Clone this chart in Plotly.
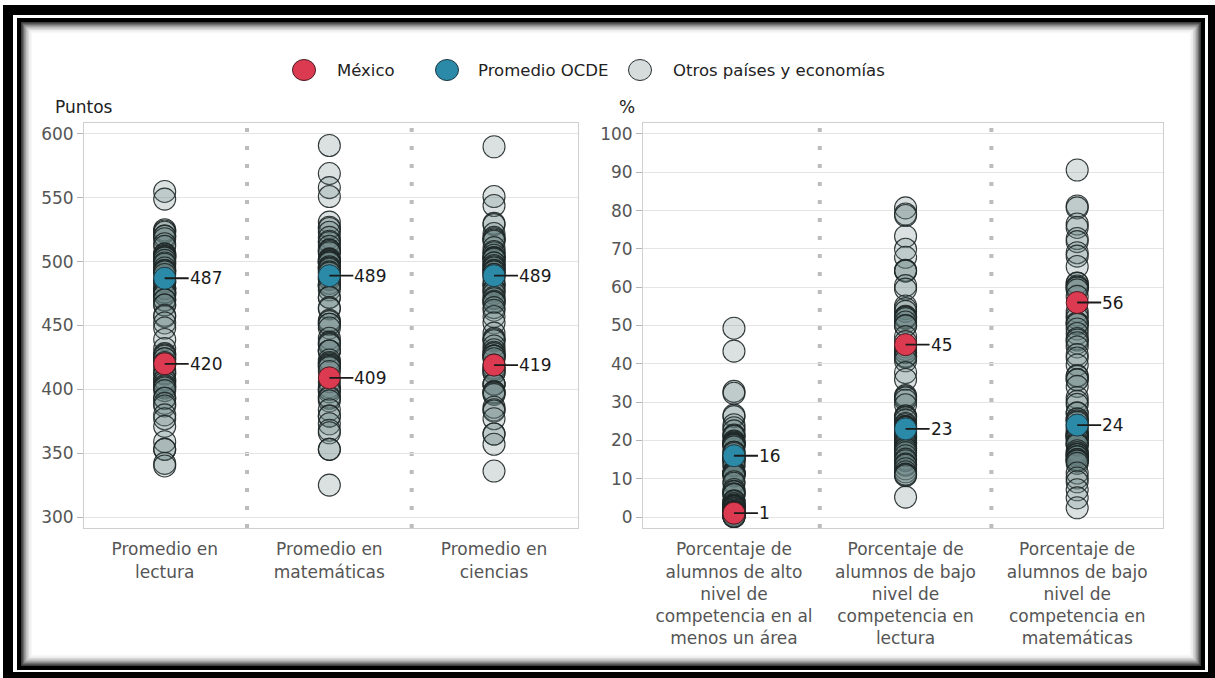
import plotly.graph_objects as go

W, H = 1215, 678
FONT = "DejaVu Sans"

# ---- data -------------------------------------------------------------
cats_left = ["Promedio en<br>lectura", "Promedio en<br>matemáticas", "Promedio en<br>ciencias"]
cats_right = [
    "Porcentaje de<br>alumnos de alto<br>nivel de<br>competencia en al<br>menos un área",
    "Porcentaje de<br>alumnos de bajo<br>nivel de<br>competencia en<br>lectura",
    "Porcentaje de<br>alumnos de bajo<br>nivel de<br>competencia en<br>matemáticas",
]

lectura = [555, 549, 525, 524, 523, 520, 520, 518, 514, 512, 506, 506, 505, 504, 504, 503, 503, 501,
           499, 498, 495, 493, 493, 492, 490, 485, 484, 484, 479, 479, 479, 476, 476, 476, 474, 474,
           470, 470, 466, 466, 458, 457, 452, 448, 439, 432, 428, 427, 426, 424, 424, 421, 420, 419,
           415, 413, 412, 408, 407, 405, 403, 402, 401, 399, 393, 393, 389, 387, 380, 377, 371, 359,
           353, 353, 342, 340]
matematicas = [591, 569, 558, 551, 531, 527, 526, 523, 519, 516, 515, 512, 509, 509, 508, 507, 502,
               502, 501, 500, 500, 499, 499, 496, 495, 495, 494, 492, 491, 488, 487, 486, 483, 481,
               481, 481, 478, 472, 472, 464, 463, 454, 453, 451, 451, 448, 440, 437, 436, 435, 430,
               430, 430, 423, 421, 420, 419, 418, 417, 414, 406, 402, 400, 400, 398, 394, 393, 391,
               384, 379, 379, 373, 368, 366, 353, 353, 325]
ciencias = [590, 551, 544, 530, 529, 522, 519, 518, 517, 516, 511, 508, 507, 505, 503, 503, 503, 502,
            499, 499, 497, 496, 495, 493, 493, 492, 490, 490, 487, 483, 482, 481, 478, 477, 475, 472,
            471, 469, 468, 468, 464, 462, 457, 452, 444, 440, 439, 438, 434, 431, 429, 428, 426, 426,
            426, 424, 419, 417, 416, 415, 413, 413, 404, 404, 404, 398, 398, 397, 396, 386, 384, 383,
            377, 365, 365, 357, 336]
alto_nivel = [49.3, 43.3, 32.8, 32.3, 26.6, 26.2, 24.1, 23.3, 22.5, 21.4, 21.2, 21.0, 19.8, 19.6,
              19.4, 19.2, 19.1, 18.9, 18.7, 18.3, 16.9, 16.9, 16.6, 15.8, 15.5, 15.4, 15.4, 14.9,
              14.6, 14.6, 13.5, 13.4, 11.8, 11.6, 11.5, 11.4, 11.3, 11.3, 10.9, 10.7, 9.2, 8.8, 7.2,
              6.7, 6.6, 6.0, 5.9, 5.9, 4.2, 4.1, 4.0, 3.5, 3.1, 3.0, 3.0, 2.9, 2.7, 2.6, 2.6, 2.2,
              2.2, 1.8, 1.4, 1.4, 1.3, 1.2, 1.2, 0.9, 0.6, 0.5, 0.4, 0.4, 0.3, 0.3, 0.1, 0.1, 0.1]
bajo_lectura = [80.7, 79.1, 78.7, 73.3, 69.9, 67.8, 64.4, 64.3, 64.2, 60.4, 59.5, 55.1, 54.4, 53.7,
                52.4, 52.2, 52.1, 51.8, 50.9, 50.0, 49.9, 47.1, 45.8, 44.4, 43.7, 43.0, 42.9, 42.0,
                41.9, 41.7, 40.8, 37.7, 35.9, 31.7, 31.4, 31.1, 30.5, 29.3, 26.4, 26.1, 25.9, 25.3,
                24.4, 24.1, 23.6, 23.6, 23.4, 23.3, 22.4, 22.1, 21.6, 21.3, 20.9, 20.7, 20.7, 20.2,
                19.6, 19.3, 19.3, 19.0, 18.4, 17.9, 17.8, 17.3, 16.8, 16.0, 15.1, 14.7, 13.8, 13.5,
                12.6, 11.8, 11.2, 11.1, 10.8, 5.2]
bajo_matematicas = [90.6, 81.2, 80.7, 76.5, 75.6, 72.7, 71.9, 69.0, 68.1, 65.4, 61.1, 61.0, 60.3,
                    60.0, 59.8, 59.3, 57.6, 53.7, 52.7, 51.9, 50.7, 50.6, 50.3, 49.1, 47.9, 46.6,
                    46.2, 45.5, 44.4, 42.4, 41.5, 39.7, 36.9, 36.7, 35.9, 35.8, 34.1, 31.2, 30.2,
                    29.4, 27.2, 27.1, 25.6, 25.6, 25.1, 24.7, 23.8, 23.3, 22.4, 21.8, 21.6, 21.3,
                    21.1, 21.1, 20.7, 20.4, 19.7, 19.2, 18.9, 18.8, 17.3, 16.8, 16.4, 16.3, 15.8,
                    15.7, 15.0, 15.0, 14.7, 14.6, 14.0, 11.5, 10.2, 9.2, 7.1, 5.0, 2.4]

mexico_left = [420, 409, 419]
ocde_left = [487, 489, 489]
mexico_right = [1, 45, 56]
ocde_right = [16, 23, 24]

# ---- styling ----------------------------------------------------------
RED = "#dc3a50"
TEAL = "#2b8aa8"
OTHER_FILL = "rgba(105,128,130,0.24)"
OTHER_LINE = "rgba(30,38,38,0.9)"
MSIZE = 22


def px_x(p):
    return p / W


def px_y(p):
    return 1 - p / H


fig = go.Figure()

panels = [
    ("x", "y", [lectura, matematicas, ciencias], mexico_left, ocde_left),
    ("x2", "y2", [alto_nivel, bajo_lectura, bajo_matematicas], mexico_right, ocde_right),
]

for xa, ya, groups, mex, ocde in panels:
    xs, ys = [], []
    for i, g in enumerate(groups):
        xs += [i] * len(g)
        ys += g
    fig.add_trace(go.Scatter(
        x=xs, y=ys, xaxis=xa, yaxis=ya, mode="markers", hoverinfo="skip",
        marker=dict(size=MSIZE, color=OTHER_FILL, line=dict(color=OTHER_LINE, width=1.1)),
    ))
    cats = list(range(len(groups)))
    fig.add_trace(go.Scatter(
        x=cats, y=ocde, xaxis=xa, yaxis=ya, mode="markers",
        marker=dict(size=MSIZE, color=TEAL, line=dict(color="#1d3a44", width=1)),
    ))
    fig.add_trace(go.Scatter(
        x=cats, y=mex, xaxis=xa, yaxis=ya, mode="markers",
        marker=dict(size=MSIZE, color=RED, line=dict(color="#4a1a20", width=1)),
    ))

annotations = []
for xa, ya, groups, mex, ocde in panels:
    for series in (mex, ocde):
        for i, v in enumerate(series):
            annotations.append(dict(
                x=i, y=v, xref=xa, yref=ya, text=str(v), showarrow=True,
                arrowhead=0, arrowwidth=1.8, arrowcolor="#1a1a1a", ax=24, ay=0,
                xanchor="left", yanchor="middle", borderpad=0,
                font=dict(family=FONT, size=17, color="#1a1a1a"),
            ))

# axis titles
annotations.append(dict(x=px_x(53), y=px_y(107), xref="paper", yref="paper", text="Puntos",
                        showarrow=False, xanchor="left", yanchor="middle",
                        font=dict(family=FONT, size=17, color="#222")))
annotations.append(dict(x=px_x(617), y=px_y(107), xref="paper", yref="paper", text="%",
                        showarrow=False, xanchor="left", yanchor="middle",
                        font=dict(family=FONT, size=17, color="#222")))

# legend
legend_items = [(304, 335, RED, "#4a1a20", "México"),
                (447, 476, TEAL, "#1d3a44", "Promedio OCDE"),
                (640, 671, "#d6dbdc", "#2a2f2f", "Otros países y economías")]
shapes = []

# frame around the figure
def rect(x0, y0, x1, y1, color):
    return dict(type="rect", xref="paper", yref="paper", layer="below",
                x0=px_x(x0), x1=px_x(x1), y0=px_y(y1), y1=px_y(y0),
                fillcolor=color, line=dict(width=0))

shapes.append(rect(3, 5, 1215, 678, "#000000"))
shapes.append(rect(13, 15, 1208, 672, "#ffffff"))
shapes.append(rect(17, 18, 1205, 670, "#000000"))
for k, col in enumerate(["#3c3c3c", "#6e6e6e", "#9a9a9a", "#bdbdbd", "#d8d8d8", "#ececec", "#f7f7f7"]):
    d = 4 + k * 1.6
    shapes.append(rect(17 + d, 18 + d, 1205 - d, 670 - d, col))
shapes.append(rect(17 + 4 + 7 * 1.6, 18 + 4 + 7 * 1.6, 1205 - 4 - 7 * 1.6, 670 - 4 - 7 * 1.6, "#ffffff"))

for cx, tx, fill, edge, label in legend_items:
    shapes.append(dict(type="circle", xref="paper", yref="paper", layer="above",
                       xsizemode="pixel", ysizemode="pixel",
                       xanchor=px_x(cx), yanchor=px_y(70),
                       x0=-11.5, x1=11.5, y0=-10.5, y1=10.5,
                       fillcolor=fill, line=dict(color=edge, width=1)))
    annotations.append(dict(x=px_x(tx), y=px_y(70), xref="paper", yref="paper", text=label,
                            showarrow=False, xanchor="left", yanchor="middle",
                            font=dict(family=FONT, size=16.5, color="#222")))

# dotted separators between categories
for xa in ("x", "x2"):
    for b in (0.5, 1.5):
        shapes.append(dict(type="line", xref=xa, yref=("y" if xa == "x" else "y2") + " domain",
                           x0=b, x1=b, y0=0, y1=1, layer="below",
                           line=dict(color="#bcbcbc", width=4, dash="4px,14px")))

axis_common = dict(showline=True, linecolor="#cfcfcf", linewidth=1, mirror=True,
                   zeroline=False, fixedrange=True)
tickfont = dict(family=FONT, size=17, color="#555")

fig.update_layout(
    width=W, height=H, autosize=False,
    margin=dict(l=0, r=0, t=0, b=0),
    paper_bgcolor="white", plot_bgcolor="rgba(0,0,0,0)",
    showlegend=False,
    font=dict(family=FONT, size=17, color="#555"),
    annotations=annotations, shapes=shapes,
    xaxis=dict(domain=[px_x(84), px_x(578)], range=[-0.49, 2.51], anchor="y",
               tickvals=[0, 1, 2], ticktext=cats_left, ticks="", showgrid=False,
               ticklabelstandoff=6, tickfont=tickfont, **axis_common),
    yaxis=dict(domain=[px_y(528), px_y(123)], range=[291.4, 608.6], anchor="x",
               tickvals=list(range(300, 601, 50)), ticks="outside", ticklen=6, tickcolor="#b5b5b5",
               showgrid=True, gridcolor="#e4e4e4", gridwidth=1, tickfont=tickfont, **axis_common),
    xaxis2=dict(domain=[px_x(643), px_x(1163)], range=[-0.53, 2.5], anchor="y2",
                tickvals=[0, 1, 2], ticktext=cats_right, ticks="", showgrid=False,
                ticklabelstandoff=6, tickfont=tickfont, **axis_common),
    yaxis2=dict(domain=[px_y(528), px_y(123)], range=[-2.87, 102.87], anchor="x2",
                tickvals=list(range(0, 101, 10)), ticks="outside", ticklen=6, tickcolor="#b5b5b5",
                showgrid=True, gridcolor="#e4e4e4", gridwidth=1, tickfont=tickfont, **axis_common),
)

fig.write_html("out.html")
